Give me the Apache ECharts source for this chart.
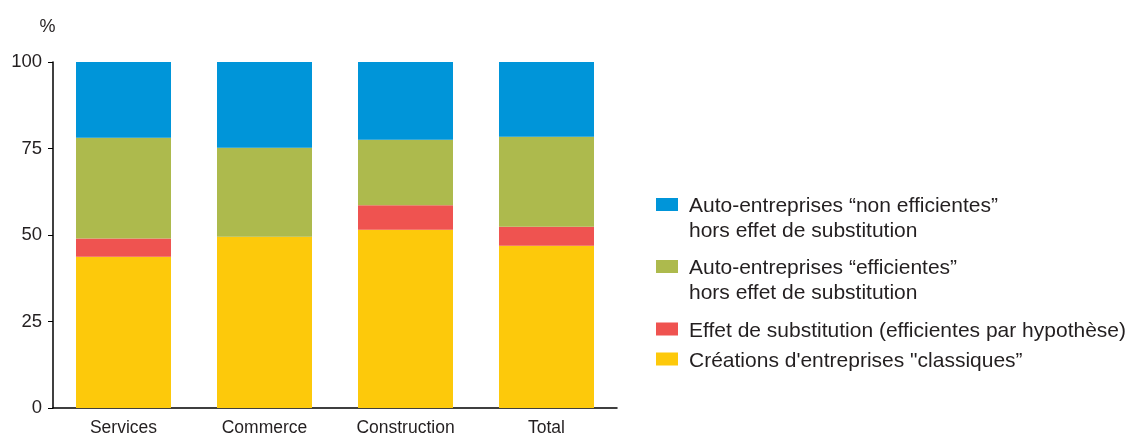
<!DOCTYPE html>
<html><head><meta charset="utf-8">
<script src="https://cdn.jsdelivr.net/npm/echarts@6/dist/echarts.min.js"></script>
<style>html,body{margin:0;padding:0;background:#fff}#c{width:1128px;height:435px}</style>
</head><body><div id="c"></div>
<script>
const categories = ['Services', 'Commerce', 'Construction', 'Total'];
const classiques = [43.7, 49.5, 51.5, 46.9];
const substitution = [5.3, 0, 7.1, 5.5];
const efficientes = [29.1, 25.7, 18.9, 26.0];
const nonEfficientes = [21.9, 24.8, 22.5, 21.6];
const yTicks = [0, 25, 50, 75, 100];

const names = {
  non: 'Auto-entreprises \u201cnon efficientes\u201d\nhors effet de substitution',
  eff: 'Auto-entreprises \u201cefficientes\u201d\nhors effet de substitution',
  sub: 'Effet de substitution (efficientes par hypoth\u00e8se)',
  cla: 'Cr\u00e9ations d\'entreprises "classiques\u201d'
};
const colors = { non: '#0095d9', eff: '#adba4d', sub: '#ef5350', cla: '#fdc90b' };
const font = 'Liberation Sans, Arial, sans-serif';
const txt = '#231f20';

// icon: visible 22x13 square at top-left, invisible extent to align with the first text line
const icon2 = 'path://M0,0L22,0L22,13L0,13Z M0,42L28,42';
const icon1 = 'path://M0,0L22,0L22,13L0,13Z M22,17L28,17';

function legend(name, top, twoLine) {
  return {
    data: [{ name: name, icon: twoLine ? icon2 : icon1 }],
    left: 656, top: top, orient: 'vertical',
    itemWidth: 28, itemHeight: twoLine ? 42 : 17, itemGap: 0, padding: 0,
    textStyle: { fontFamily: font, fontSize: 21, color: txt, lineHeight: 25 }
  };
}

const chart = echarts.init(document.getElementById('c'), null, { renderer: 'canvas' });
chart.setOption({
  animation: false,
  grid: { left: 53, right: 511, top: 62, bottom: 27, outerBoundsMode: 'none', containLabel: false },
  legend: [
    legend(names.non, 194, true),
    legend(names.eff, 256, true),
    legend(names.sub, 318.5, false),
    legend(names.cla, 348.5, false)
  ],
  xAxis: {
    type: 'category', data: categories,
    axisLine: { lineStyle: { color: '#000', width: 1.5 } },
    axisTick: { show: false },
    axisLabel: { fontFamily: font, fontSize: 17.5, color: txt, margin: 11 }
  },
  yAxis: {
    type: 'value', min: 0, max: 100, interval: 25,
    name: '%', nameLocation: 'end', nameGap: 26,
    nameTextStyle: { fontFamily: font, fontSize: 18, color: txt, align: 'center', padding: [0, 11, 0, 0] },
    axisLine: { show: true, lineStyle: { color: '#000', width: 1.5 } },
    axisTick: { show: true, length: 5, lineStyle: { color: '#000' } },
    splitLine: { show: false },
    axisLabel: {
      fontFamily: font, fontSize: 18.5, color: txt, margin: 11,
      formatter: v => yTicks.includes(v) ? String(v) : ''
    }
  },
  series: [
    { name: names.cla, type: 'bar', stack: 's', data: classiques, barWidth: 95, itemStyle: { color: colors.cla } },
    { name: names.sub, type: 'bar', stack: 's', data: substitution, barWidth: 95, itemStyle: { color: colors.sub } },
    { name: names.eff, type: 'bar', stack: 's', data: efficientes, barWidth: 95, itemStyle: { color: colors.eff } },
    { name: names.non, type: 'bar', stack: 's', data: nonEfficientes, barWidth: 95, itemStyle: { color: colors.non } }
  ]
});
</script></body></html>
